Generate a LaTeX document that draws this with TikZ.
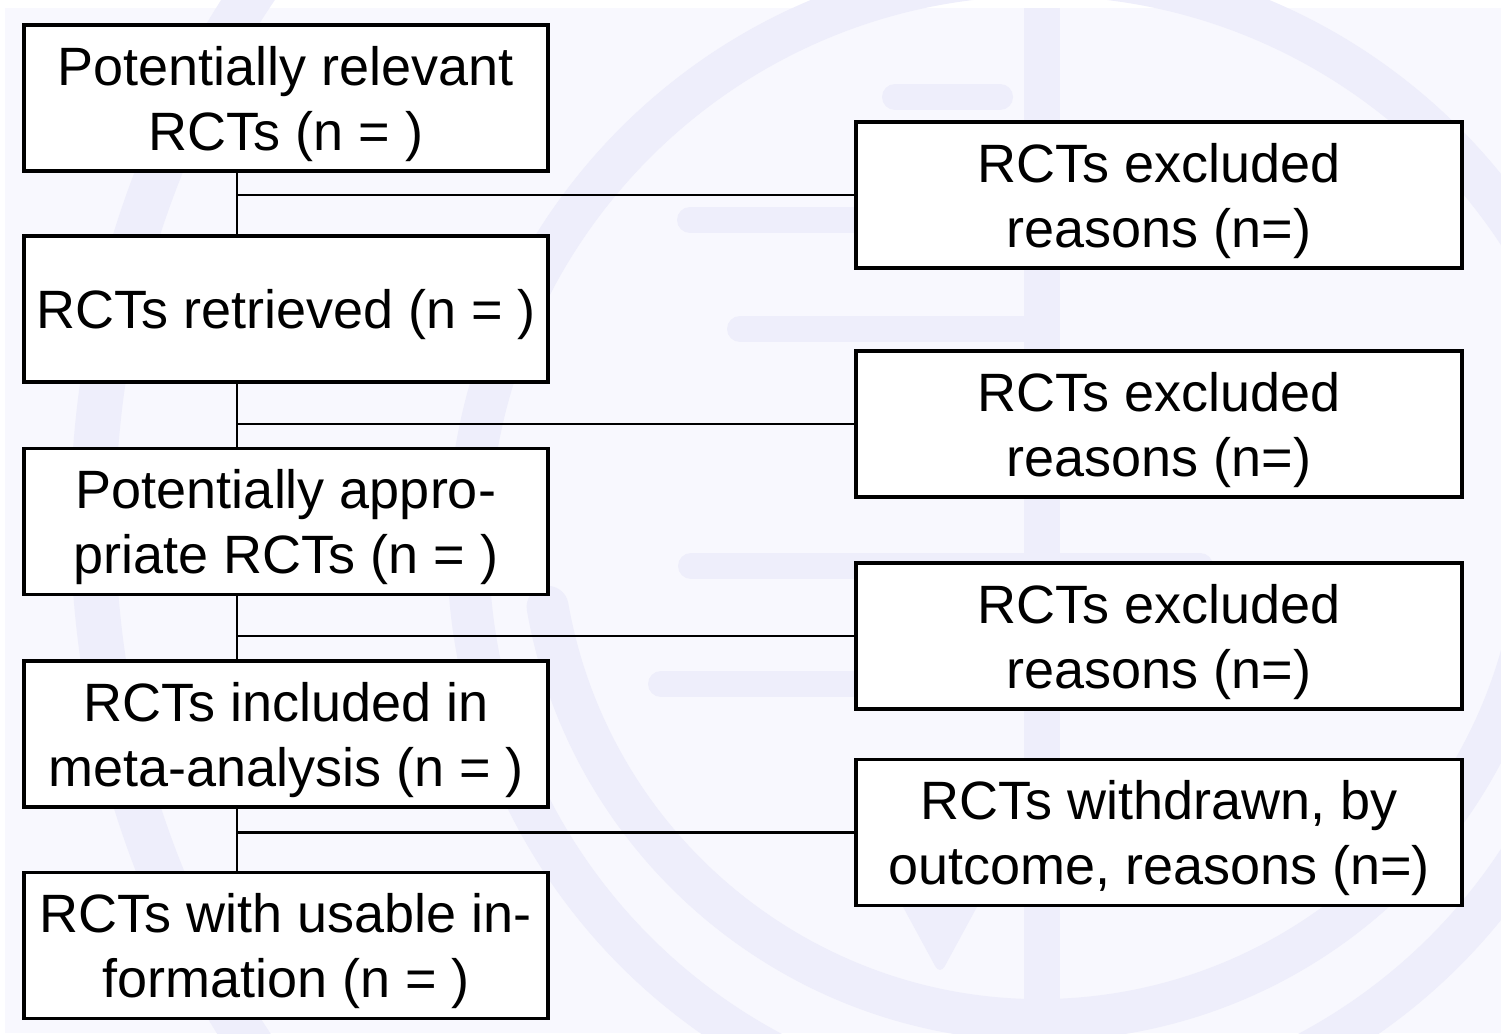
\documentclass[tikz,border=0pt]{standalone}
\usepackage{fontspec}
\setmainfont{Liberation Sans}
\definecolor{page_bg}{RGB}{248,248,254}
\definecolor{logo_tint}{RGB}{238,238,251}
% tall strut so the text sits a little low in its box
\newcommand\lowset{\rule{0pt}{51pt}}

\begin{document}
\begin{tikzpicture}[x=1pt,y=-1pt]
    \tikzstyle{box}=[draw=black, line width=3.5pt, fill=white, rectangle, minimum height=146pt, inner sep=0pt, align=center, font=\fontsize{54}{65}\selectfont]
    \tikzstyle{stage}=[style=box, minimum width=524pt]
    \tikzstyle{drop}=[style=box, minimum width=606pt]
    \tikzstyle{link}=[draw=black, line width=2.5pt]
    \tikzstyle{tint}=[draw=logo_tint, line cap=round]

    \useasboundingbox (0,0) rectangle (1501,1033);
    % washed-out logo in the background
    \begin{scope}
      \clip (0,0) rectangle (1501,1033);
      \fill[page_bg] (5,8) rectangle (1501,1033);
      \draw[tint, line width=45pt] (1043,520) circle (950pt);
      \draw[tint, line width=42pt] (1040,547) circle (572pt);
      \draw[tint, line width=42pt] (1040,520) ++(190:500pt) arc[start angle=190, end angle=350, radius=500pt];
      \draw[tint, line width=36pt, line cap=butt] (1042,8) -- (1042,1033);
      \foreach \xa/\ya/\xb in {895/97/1000, 690/220/1200, 740/329/1040, 691/566/1200, 661/684/1200}
        \draw[tint, line width=26pt] (\xa,\ya) -- (\xb,\ya);
      \fill[logo_tint, rounded corners=10pt] (940,770) -- (997,870) -- (940,975) -- (883,870) -- cycle;
    \end{scope}

    % main column
    \node[stage] (found)    at (286,98)    {\lowset Potentially relevant\\RCTs (n = )};
    \node[stage] (got)      at (286,309)   {\lowset RCTs retrieved (n = )};
    \node[stage] (fit)      at (286,521.5) {\lowset Potentially appro-\\priate RCTs (n = )};
    \node[stage] (pooled)   at (286,734)   {\lowset RCTs included in\\meta-analysis (n = )};
    \node[stage] (usable)   at (286,945.5) {\lowset RCTs with usable in-\\formation (n = )};
    % side column
    \node[drop]  (out1)     at (1159,195)   {\lowset RCTs excluded\\reasons (n=)};
    \node[drop]  (out2)     at (1159,424)   {\lowset RCTs excluded\\reasons (n=)};
    \node[drop]  (out3)     at (1159,636)   {\lowset RCTs excluded\\reasons (n=)};
    \node[drop]  (pulled)   at (1159,832.5) {\lowset RCTs withdrawn, by\\outcome, reasons (n=)};

    \coordinate (trunk) at (237,0);
    \path[link]
     (found.south -| trunk)  edge (got.north -| trunk)
     (got.south -| trunk)    edge (fit.north -| trunk)
     (fit.south -| trunk)    edge (pooled.north -| trunk)
     (pooled.south -| trunk) edge (usable.north -| trunk)
     (trunk |- out1.west)    edge (out1.west)
     (trunk |- out2.west)    edge (out2.west)
     (trunk |- out3.west)    edge (out3.west)
     (trunk |- pulled.west)  edge (pulled.west)
     ;
\end{tikzpicture}
\end{document}
